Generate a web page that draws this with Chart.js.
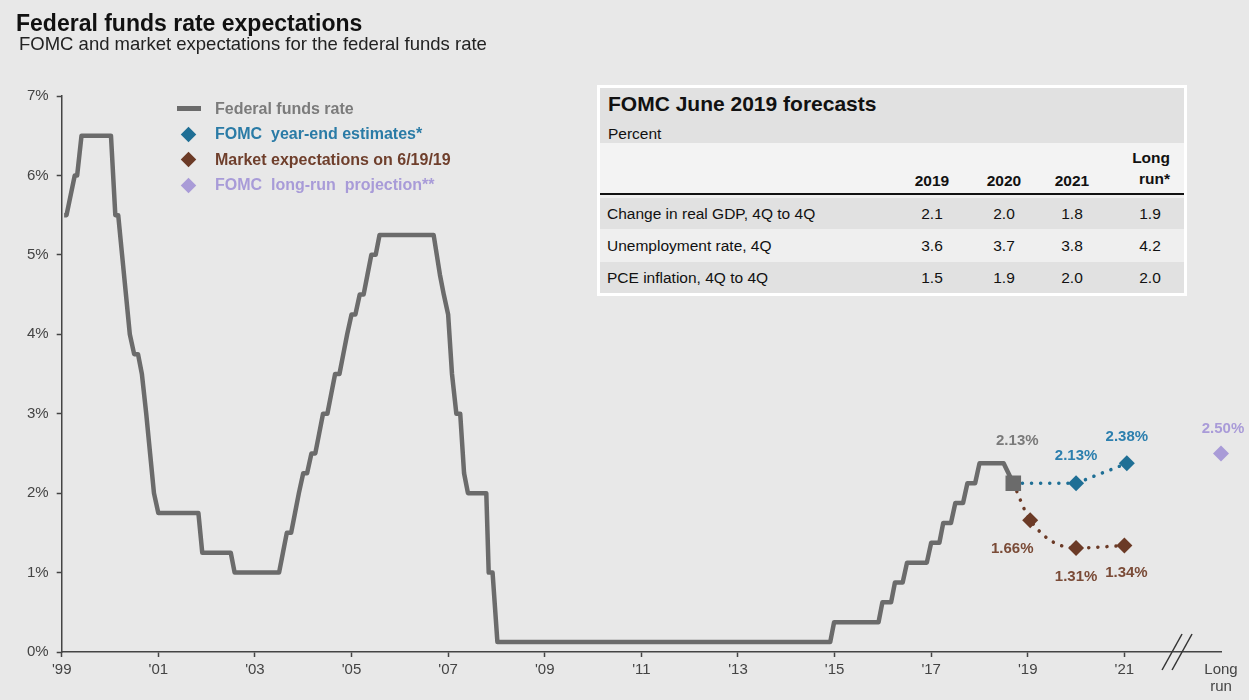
<!DOCTYPE html>
<html>
<head>
<meta charset="utf-8">
<script src="https://cdn.jsdelivr.net/npm/chart.js@4.4.1/dist/chart.umd.min.js"></script>
<style>
  html, body { margin: 0; padding: 0; background: #e8e8e8; }
  body { width: 1249px; height: 700px; position: relative; overflow: hidden; font-family: "Liberation Sans", Arial, sans-serif; }
  #chart { position: absolute; left: 0; top: 0; }
  .title { position: absolute; left: 16px; top: 12px; font-size: 23px; line-height: 1; font-weight: bold; color: #111; white-space: nowrap; }
  .subtitle { position: absolute; left: 19px; top: 35px; font-size: 18.5px; line-height: 1; color: #222; white-space: nowrap; }
  #legend { position: absolute; left: 172px; top: 96px; }
  #legend .item { height: 25.5px; display: flex; align-items: center; font-size: 16px; font-weight: bold; white-space: nowrap; }
  #legend .mark { width: 32px; height: 25.5px; position: relative; margin-right: 11px; }
  #legend .bar { position: absolute; left: 5px; top: 10px; width: 24px; height: 5px; }
  #legend .dia { position: absolute; left: 11px; top: 7px; width: 11px; height: 11px; transform: rotate(45deg); }
  #fomcTable { position: absolute; left: 597px; top: 85px; width: 584px; height: 205px; border: 3px solid #fff; background: #efefef; color: #111; }
  #fomcTable div { position: absolute; white-space: nowrap; }
  .band { left: 0; width: 584px; }
  .ttl { left: 8px; top: 5px; font-size: 21px; line-height: 1; font-weight: bold; }
  .pct { left: 8px; top: 38px; font-size: 15.5px; line-height: 1; }
  .hdr { font-size: 15.5px; font-weight: bold; line-height: 1; text-align: center; width: 60px; }
  .cell { font-size: 15.5px; text-align: center; width: 60px; }
  .rowname { left: 7px; font-size: 15.5px; }
</style>
</head>
<body>
<canvas id="chart" width="1249" height="700"></canvas>
<div class="title">Federal funds rate expectations</div>
<div class="subtitle">FOMC and market expectations for the federal funds rate</div>
<div id="legend"></div>
<div id="fomcTable"></div>
<script>
// Federal funds rate, positions along the chart's year axis
const fedFundsDates = [1999.05, 1999.10, 1999.27, 1999.32, 1999.41, 2000.02, 2000.11, 2000.17,
  2000.25, 2000.33, 2000.41, 2000.50, 2000.58, 2000.66, 2000.75, 2000.83, 2000.91, 2001.00,
  2001.83, 2001.91, 2002.50, 2002.58, 2003.50, 2003.58, 2003.66, 2003.75, 2003.83, 2003.91,
  2004.00, 2004.08, 2004.17, 2004.25, 2004.33, 2004.41, 2004.50, 2004.58, 2004.66, 2004.75,
  2004.83, 2004.91, 2005.00, 2005.08, 2005.17, 2005.25, 2005.33, 2005.41, 2005.50, 2005.58,
  2006.70, 2006.83, 2006.91, 2007.00, 2007.08, 2007.17, 2007.25, 2007.33, 2007.41, 2007.79,
  2007.84, 2007.92, 2008.02, 2014.91, 2014.99, 2015.91, 2015.99, 2016.17, 2016.25, 2016.41,
  2016.50, 2016.91, 2017.00, 2017.17, 2017.25, 2017.41, 2017.50, 2017.66, 2017.75, 2017.91,
  2018.00, 2018.50, 2018.70];
const fedFundsRate = [5.5, 5.5, 6.0, 6.0, 6.5, 6.5, 5.5, 5.5,
  5.0, 4.5, 4.0, 3.75, 3.75, 3.5, 3.0, 2.5, 2.0, 1.75,
  1.75, 1.25, 1.25, 1.0, 1.0, 1.25, 1.5, 1.5, 1.75, 2.0,
  2.25, 2.25, 2.5, 2.5, 2.75, 3.0, 3.0, 3.25, 3.5, 3.5,
  3.75, 4.0, 4.25, 4.25, 4.5, 4.5, 4.75, 5.0, 5.0, 5.25,
  5.25, 4.75, 4.5, 4.25, 3.5, 3.0, 3.0, 2.25, 2.0, 2.0,
  1.0, 1.0, 0.125, 0.125, 0.375, 0.375, 0.625, 0.625, 0.875, 0.875,
  1.125, 1.125, 1.375, 1.375, 1.625, 1.625, 1.875, 1.875, 2.125, 2.125,
  2.375, 2.375, 2.125];
const fedFundsEndLabel = '2.13%';

const fomcDates = [2018.70, 2020.00, 2021.05];
const fomcEstimates = [2.125, 2.125, 2.375];
const fomcLabels = ['', '2.13%', '2.38%'];

const marketDates = [2018.70, 2019.05, 2020.00, 2021.00];
const marketExpectations = [2.125, 1.66, 1.31, 1.34];
const marketLabels = ['', '1.66%', '1.31%', '1.34%'];

const longRunDates = [2023];
const longRunProjection = [2.5];
const longRunLabels = ['2.50%'];

const xTickValues = [1999, 2001, 2003, 2005, 2007, 2009, 2011, 2013, 2015, 2017, 2019, 2021, 2023];
const xTickLabels = ["'99", "'01", "'03", "'05", "'07", "'09", "'11", "'13", "'15", "'17", "'19", "'21", ['Long', 'run']];
const yTickValues = [0, 1, 2, 3, 4, 5, 6, 7];

// FOMC June 2019 table
const tableColumns = ['2019', '2020', '2021', 'Long run*'];
const tableRows = ['Change in real GDP, 4Q to 4Q', 'Unemployment rate, 4Q', 'PCE inflation, 4Q to 4Q'];
const gdpForecast = [2.1, 2.0, 1.8, 1.9];
const unemploymentForecast = [3.6, 3.7, 3.8, 4.2];
const pceForecast = [1.5, 1.9, 2.0, 2.0];

const GREY = '#6b6b6b', BLUE = '#1f6f95', BROWN = '#6b3a26', LILAC = '#a99bd7';
const FONT = '"Liberation Sans", Arial, sans-serif';

const pts = (xs, ys) => xs.map((x, i) => ({ x: x, y: ys[i] }));

// value labels next to the forecast markers
const valueLabels = {
  id: 'valueLabels',
  afterDatasetsDraw(chart) {
    const ctx = chart.ctx;
    ctx.save();
    ctx.font = 'bold 15px ' + FONT;
    ctx.textAlign = 'center';
    ctx.textBaseline = 'middle';
    chart.data.datasets.forEach((ds, di) => {
      if (!ds.valueLabels) return;
      const meta = chart.getDatasetMeta(di);
      ds.valueLabels.forEach((txt, i) => {
        if (!txt) return;
        const el = meta.data[i];
        const off = ds.labelOffsets[i];
        ctx.fillStyle = ds.labelColor;
        ctx.fillText(txt, el.x + off[0], el.y + off[1]);
      });
    });
    ctx.restore();
  }
};

// "//" break on the x axis before the long-run point
const axisBreak = {
  id: 'axisBreak',
  afterDraw(chart) {
    const x = chart.scales.x.getPixelForValue(2022.09);
    const y = chart.scales.x.top;
    const ctx = chart.ctx;
    ctx.save();
    ctx.strokeStyle = '#333';
    ctx.lineWidth = 1.5;
    [-5, 5].forEach(d => {
      ctx.beginPath();
      ctx.moveTo(x + d - 10, y + 18);
      ctx.lineTo(x + d + 10, y - 18);
      ctx.stroke();
    });
    ctx.restore();
  }
};

const lastIdx = fedFundsRate.length - 1;

const chart = new Chart(document.getElementById('chart'), {
  type: 'line',
  data: {
    datasets: [
      {
        label: 'Federal funds rate',
        data: pts(fedFundsDates, fedFundsRate),
        borderColor: GREY,
        backgroundColor: GREY,
        borderWidth: 4.5,
        borderJoinStyle: 'round',
        pointStyle: 'rect',
        pointRadius: c => c.dataIndex === lastIdx ? 11 : 0,
        pointBorderWidth: 0,
        legendShape: 'bar',
        legendColor: '#7b7b7b',
        valueLabels: fedFundsRate.map((v, i) => i === lastIdx ? fedFundsEndLabel : ''),
        labelOffsets: fedFundsRate.map(() => [4, -42]),
        labelColor: '#7a7a7a'
      },
      {
        label: 'FOMC  year-end estimates*',
        data: pts(fomcDates, fomcEstimates),
        borderColor: BLUE,
        backgroundColor: BLUE,
        borderWidth: 3.5,
        borderDash: [0.1, 9],
        borderCapStyle: 'round',
        pointStyle: 'rectRot',
        pointRadius: c => c.dataIndex === 0 ? 0 : 8,
        pointBorderWidth: 0,
        legendShape: 'diamond',
        legendColor: '#2a7ba6',
        valueLabels: fomcLabels,
        labelOffsets: [[0, 0], [0, -27], [0, -26]],
        labelColor: '#2c7fae'
      },
      {
        label: 'Market expectations on 6/19/19',
        data: pts(marketDates, marketExpectations),
        borderColor: BROWN,
        backgroundColor: BROWN,
        borderWidth: 3.5,
        borderDash: [0.1, 9],
        borderCapStyle: 'round',
        cubicInterpolationMode: 'monotone',
        pointStyle: 'rectRot',
        pointRadius: c => c.dataIndex === 0 ? 0 : 8,
        pointBorderWidth: 0,
        legendShape: 'diamond',
        legendColor: '#6f3f2c',
        valueLabels: marketLabels,
        labelOffsets: [[0, 0], [-18, 29], [0, 29], [2, 27]],
        labelColor: '#7a4b37'
      },
      {
        label: 'FOMC  long-run  projection**',
        data: pts(longRunDates, longRunProjection),
        showLine: false,
        backgroundColor: LILAC,
        borderColor: LILAC,
        pointStyle: 'rectRot',
        pointRadius: 8,
        pointBorderWidth: 0,
        clip: false,
        legendShape: 'diamond',
        legendColor: '#a89bd8',
        valueLabels: longRunLabels,
        labelOffsets: [[2, -25]],
        labelColor: '#a99bd8'
      }
    ]
  },
  options: {
    responsive: false,
    devicePixelRatio: 1,
    animation: false,
    events: [],
    layout: { padding: { left: 0, right: 28, top: 96, bottom: 0 } },
    plugins: { legend: { display: false }, tooltip: { enabled: false } },
    scales: {
      x: {
        type: 'linear',
        min: 1999,
        max: 2023,
        afterFit: s => { s.height = 48; },
        afterBuildTicks: s => { s.ticks = xTickValues.map(v => ({ value: v })); },
        border: { display: true, color: '#444', width: 1.5 },
        grid: {
          drawOnChartArea: false,
          drawTicks: true,
          tickLength: 5,
          tickWidth: 1.5,
          tickColor: c => (c.tick && c.tick.value === 2023) ? 'rgba(0,0,0,0)' : '#444'
        },
        ticks: {
          autoSkip: false,
          maxRotation: 0,
          padding: 5,
          color: '#444',
          font: { family: FONT, size: 15, lineHeight: 1.1 },
          callback: (v, i) => xTickLabels[i]
        }
      },
      y: {
        min: 0,
        max: 7,
        afterFit: s => { s.width = 61.7; },
        afterBuildTicks: s => { s.ticks = yTickValues.map(v => ({ value: v })); },
        border: { display: true, color: '#444', width: 1.5 },
        grid: { drawOnChartArea: false, drawTicks: true, tickLength: 5, tickWidth: 1.5, color: '#444' },
        ticks: {
          padding: 8,
          color: '#444',
          font: { family: FONT, size: 15 },
          callback: v => v + '%'
        }
      }
    }
  },
  plugins: [valueLabels, axisBreak]
});

// legend built from the datasets
const legend = document.getElementById('legend');
chart.data.datasets.forEach(ds => {
  const item = document.createElement('div');
  item.className = 'item';
  const shape = ds.legendShape === 'bar'
    ? `<span class="bar" style="background:${ds.backgroundColor}"></span>`
    : `<span class="dia" style="background:${ds.backgroundColor}"></span>`;
  item.innerHTML = `<span class="mark">${shape}</span><span style="color:${ds.legendColor}">${ds.label.replace(/ /g, '&nbsp;')}</span>`;
  legend.appendChild(item);
});

// FOMC forecasts table
const tbl = document.getElementById('fomcTable');
const colCenters = [332, 404, 472, 550];
let html = '';
html += `<div class="band" style="top:0;height:55px;background:#e1e1e1"></div>`;
html += `<div class="band" style="top:55px;height:50px;background:#f3f3f3"></div>`;
html += `<div class="ttl">FOMC June 2019 forecasts</div>`;
html += `<div class="pct">Percent</div>`;
tableColumns.forEach((c, i) => {
  if (c.startsWith('Long')) {
    const parts = c.split(' ');
    html += `<div class="hdr" style="left:${colCenters[i] - 40}px;top:62px;text-align:right">${parts[0]}</div>`;
    html += `<div class="hdr" style="left:${colCenters[i] - 40}px;top:83px;text-align:right">${parts[1]}</div>`;
  } else {
    html += `<div class="hdr" style="left:${colCenters[i] - 30}px;top:85px">${c}</div>`;
  }
});
html += `<div class="band" style="top:105px;height:2px;background:#111"></div>`;
const rowTops = [110, 142, 174];
const rowBg = ['#e1e1e1', '#efefef', '#e1e1e1'];
[gdpForecast, unemploymentForecast, pceForecast].forEach((vals, r) => {
  html += `<div class="band" style="top:${rowTops[r]}px;height:31px;background:${rowBg[r]}"></div>`;
  html += `<div class="rowname" style="top:${rowTops[r]}px;line-height:31px">${tableRows[r]}</div>`;
  vals.forEach((v, i) => {
    html += `<div class="cell" style="left:${colCenters[i] - 30}px;top:${rowTops[r]}px;line-height:31px">${v.toFixed(1)}</div>`;
  });
});
tbl.innerHTML = html;
</script>
</body>
</html>
